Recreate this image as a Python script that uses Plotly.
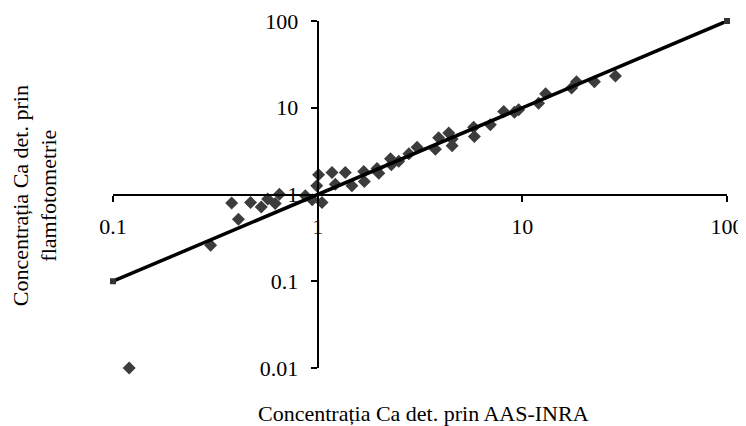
"""Ca: flamfotometrie vs AAS-INRA, log-log."""

import plotly.graph_objects as go

# valori
ca_aas = [0.12, 0.30, 0.38, 0.41, 0.47, 0.53, 0.57, 0.62, 0.65, 0.87, 0.94, 1.05,
          0.99, 1.01, 1.175, 1.365, 1.22, 1.47, 1.68, 1.69, 1.95, 1.99, 2.27, 2.29,
          2.49, 2.79, 3.06, 3.76, 3.90, 4.54, 4.54, 4.37, 5.78, 5.83, 6.98, 8.11,
          9.15, 9.60, 12.0, 13.0, 17.4, 18.4, 22.5, 28.5]
ca_flam = [0.01, 0.26, 0.80, 0.52, 0.81, 0.72, 0.885, 0.79, 1.01, 0.97, 0.87, 0.81,
           1.26, 1.69, 1.79, 1.79, 1.31, 1.26, 1.84, 1.41, 1.99, 1.76, 2.59, 2.20,
           2.41, 2.94, 3.50, 3.33, 4.50, 4.35, 3.64, 5.10, 5.94, 4.66, 6.35, 9.04,
           8.85, 9.46, 11.3, 14.5, 16.9, 19.9, 20.0, 23.3]

# dreapta 1:1
ref_x = [0.1, 100]
ref_y = [0.1, 100]

x_ticks = [0.1, 1, 10, 100]
x_labels = ["0.1", "1", "10", "100"]
y_ticks = [0.01, 0.1, 1, 10, 100]
y_labels = ["0.01", "0.1", "1", "10", "100"]

SERIF = "Liberation Serif, Times New Roman, serif"

fig = go.Figure()
fig.add_trace(
    go.Scatter(
        x=ca_aas,
        y=ca_flam,
        mode="markers",
        marker=dict(symbol="diamond", size=10, color="#3c3c3c", line=dict(width=0)),
        cliponaxis=False,
        showlegend=False,
    )
)
fig.add_trace(
    go.Scatter(
        x=ref_x,
        y=ref_y,
        mode="lines+markers",
        line=dict(color="#000000", width=3.5),
        marker=dict(symbol="square", size=6, color="#333333"),
        cliponaxis=False,
        showlegend=False,
    )
)

axis_common = dict(
    type="log",
    anchor="free",
    ticks="outside",
    ticklen=6,
    tickwidth=1.5,
    tickcolor="#000000",
    showline=True,
    linecolor="#000000",
    linewidth=2,
    showgrid=False,
    zeroline=False,
    automargin=False,
)

# pagina are margine implicita de 8px, deci figura e mai mica cu 8px
fig.update_layout(
    width=738,
    height=418,
    margin=dict(l=105, r=19, t=13, b=58, autoexpand=False),
    paper_bgcolor="#ffffff",
    plot_bgcolor="#ffffff",
    font=dict(family=SERIF, size=22, color="#000000"),
    xaxis=dict(
        **axis_common,
        range=[-1, 2],
        position=0.5,
        tickvals=x_ticks,
        ticktext=x_labels,
        ticklabelstandoff=6,
    ),
    yaxis=dict(
        **axis_common,
        range=[-2, 2],
        position=1 / 3,
        tickvals=y_ticks,
        ticktext=y_labels,
        ticklabelstandoff=8,
    ),
)

fig.add_annotation(
    text="Concentrația Ca det. prin AAS-INRA",
    xref="paper", yref="paper",
    x=0.505, y=-0.131,
    xanchor="center", yanchor="middle",
    showarrow=False,
    font=dict(size=22),
)
fig.add_annotation(
    text="Concentrația Ca det. prin<br>flamfotometrie",
    xref="paper", yref="paper",
    x=-0.127, y=0.495,
    xanchor="center", yanchor="middle",
    textangle=-90,
    showarrow=False,
    font=dict(size=22),
)

fig.write_html("out.html")
